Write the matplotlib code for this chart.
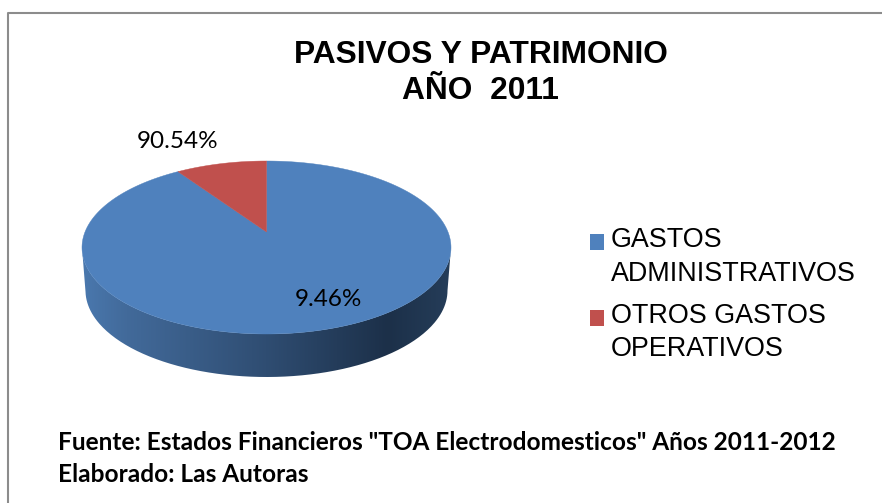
import numpy as np
import matplotlib
matplotlib.use("Agg")
import matplotlib.pyplot as plt
from matplotlib.patches import Polygon, Patch, PathPatch, Rectangle
from matplotlib.path import Path
from matplotlib.colors import LinearSegmentedColormap
from matplotlib.legend_handler import HandlerPatch

title_lines = ["PASIVOS Y PATRIMONIO", "AÑO  2011"]
categories = ["GASTOS\nADMINISTRATIVOS", "OTROS GASTOS\nOPERATIVOS"]
slice_values = [90.54, 9.46]
# the labels sit on the opposite slices in the original chart
slice_labels = ["9.46%", "90.54%"]
slice_colors = ["#4f81bd", "#c0504d"]
footer_lines = ['Fuente: Estados Financieros "TOA Electrodomesticos" Años 2011-2012',
                "Elaborado: Las Autoras"]

# pie geometry in pixels, the top face is tilted with perspective
cx, cy = 266.5, 247.5
rx, ry = 184.5, 86.5
apex_y = 232
depth = 43
w = (cy - apex_y) / ry


def project(theta):
    t = np.radians(theta)
    x, y = np.cos(t), np.sin(t)
    d = 1 + w * y
    return cx + rx * np.sqrt(1 - w ** 2) * x / d, cy - ry * (y + w) / d


def raised_square(legend, orig_handle, xdescent, ydescent, width, height, fontsize):
    # multi line labels: keep the square level with the first line
    return Rectangle((-xdescent, -ydescent + 11), width, height)


fig = plt.figure(figsize=(8.82, 5.03), dpi=100)
ax = fig.add_axes([0, 0, 1, 1])
wedges, _ = ax.pie(slice_values, colors=slice_colors, startangle=90, counterclock=False)
ax.set_xlim(0, 882)
ax.set_ylim(503, 0)
ax.axis("off")

# side of the pie
t = np.linspace(0, np.pi, 200)
top_x = cx + rx * np.cos(t)
top_y = cy + ry * np.sin(t)
bot_x = cx + (rx - 3.5) * np.cos(t[::-1])
bot_y = cy + depth + ry * np.sin(t[::-1])
side = Path(np.column_stack([np.r_[top_x, bot_x], np.r_[top_y, bot_y]]))
side_cmap = LinearSegmentedColormap.from_list(
    "side", [(0, "#4a78ae"), (0.12, "#426a9a"), (0.5, "#2f4d72"), (0.83, "#1c3049"), (1, "#253d59")])
im = ax.imshow(np.linspace(0, 1, 256)[None, :], cmap=side_cmap, aspect="auto",
               extent=(cx - rx, cx + rx, cy + depth + ry, cy), zorder=1)
clip = PathPatch(side, fc="none", ec="none", transform=ax.transData)
ax.add_patch(clip)
im.set_clip_path(clip)
ax.set_xlim(0, 882)
ax.set_ylim(503, 0)

# top face from the angles the pie worked out
for wedge, color in zip(wedges, slice_colors):
    wedge.set_visible(False)
    px, py = project(np.linspace(wedge.theta1, wedge.theta2, 300))
    ax.add_patch(Polygon(np.column_stack([np.r_[cx, px], np.r_[apex_y, py]]), fc=color, ec=color,
                         lw=0.3, zorder=2))

ax.text(328, 299, slice_labels[0], fontsize=17.5, family="Lato", ha="center", va="center", zorder=3)
ax.text(178, 141, slice_labels[1], fontsize=17.5, family="Lato", ha="center", va="center", zorder=3)

ax.text(480.5, 54.5, title_lines[0], fontsize=22.9, family="Liberation Sans", weight="bold",
        ha="center", va="center")
ax.text(480.5, 90.5, title_lines[1], fontsize=22.9, family="Liberation Sans", weight="bold",
        ha="center", va="center")

handles = [Patch(fc=c, ec="none") for c in slice_colors]
leg = ax.legend(handles, categories, loc="upper left", bbox_to_anchor=(590 / 882, 1 - 227 / 503),
                frameon=False, prop={"family": "Liberation Sans", "size": 19.4},
                handlelength=0.52, handleheight=0.52, handletextpad=0.26, labelspacing=0.6,
                borderpad=0, borderaxespad=0,
                handler_map={Patch: HandlerPatch(patch_func=raised_square)})
for txt in leg.get_texts():
    txt.set_linespacing(1.38)

ax.text(58, 442.5, footer_lines[0], fontsize=17.6, family="Lato", weight="bold", va="center")
ax.text(58, 474.5, footer_lines[1], fontsize=17.6, family="Lato", weight="bold", va="center")

# chart frame
ax.plot([8, 8, 882], [503, 12.5, 12.5], color="#8c8c8c", lw=1.5, clip_on=False, zorder=5)

fig.savefig("out.png", dpi=100)
